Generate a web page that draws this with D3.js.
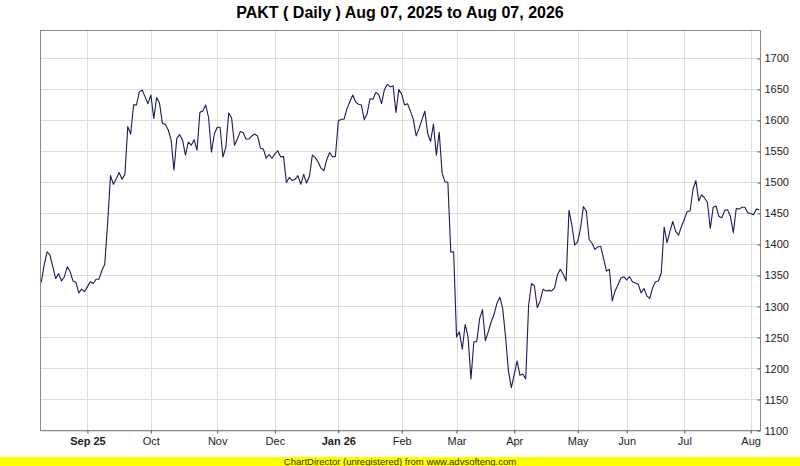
<!DOCTYPE html>
<html>
<head>
<meta charset="utf-8">
<script src="https://cdn.jsdelivr.net/npm/d3@7"></script>
<style>
    body { margin: 0; background: #ffffff; }
    text { font-family: "Liberation Sans", Arial, sans-serif; }
</style>
</head>
<body>
<div id="container"></div>
<script>
// Fechamentos diarios (250 pregoes)
var fechamentos = [
    1339,1367,1388,1383,1364,1345,1353,1341,1348,1364,
    1356,1341,1339,1322,1328,1324,1332,1340,1337,1344,
    1344,1358,1368,1434,1511,1497,1506,1516,1505,1513,
    1590,1578,1625,1625,1646,1649,1638,1627,1641,1603,
    1637,1628,1595,1594,1585,1569,1520,1571,1577,1568,
    1544,1565,
    1560,1569,1552,1613,1615,1625,1605,1549,1578,1589,
    1589,1541,1557,1612,1604,1560,1570,1582,1580,1570,
    1570,1575,1578,1575,1555,1554,1539,1545,1539,1546,
    1551,1541,1542,1500,1508,1503,1505,1511,1497,1513,
    1499,1510,1544,1540,1533,1523,1519,1537,1548,1541,
    1542,1599,1602,1602,1619,1630,1641,1630,1626,1625,
    1601,1611,1635,1634,1645,1642,1627,1650,1658,1654,
    1656,1613,1650,1642,1625,1627,1615,1602,1575,1587,
    1601,1615,1579,1566,1594,1544,1581,1515,1501,1500,
    1388,1388,1251,1259,1231,1271,1251,1183,1243,1243,
    1280,
    1295,1245,1259,1275,1287,1305,1315,1297,1251,1196,
    1169,1190,1212,1189,1191,1183,1302,1337,1333,1298,
    1309,1328,1325,1326,1325,1330,1351,1360,1352,1341,
    1455,1431,1399,1404,1426,1461,1454,1408,1402,1392,
    1396,1397,1377,1357,1360,1309,1325,1335,1346,1348,
    1343,1348,1340,1338,1336,1322,1329,1317,1313,1330,
    1340,1341,1354,1428,1403,1421,1437,1421,1415,1429,
    1441,1453,1454,1489,1503,1470,1480,1475,1468,1426,
    1460,1462,1445,1443,1455,1456,1445,1419,1458,1457,
    1460,1460,1451,1450,1448,1457,1456
];

// Rotulos do eixo x e o pregao onde cada um cai
var rotulosMes = ["Sep 25","Oct","Nov","Dec","Jan 26","Feb","Mar","Apr","May","Jun","Jul","Aug"];
var indiceMes  = [16, 38, 61, 81, 103, 125, 144, 164, 186, 203, 223, 246];
var rotulosAno = ["Sep 25","Jan 26"];

var ticksY = [1100,1150,1200,1250,1300,1350,1400,1450,1500,1550,1600,1650,1700];

var titulo = "PAKT ( Daily ) Aug 07, 2025 to Aug 07, 2026";
var rodape = "ChartDirector (unregistered) from www.advsofteng.com";

desenharGrafico();

function desenharGrafico(){
    var w = 800;
    var h = 466;
    var esq = 40.5, dir = 760.5, topo = 30.5, base = 430.5;

    var svg = d3.select("div#container")
                .append("svg")
                .attr("width", w)
                .attr("height", h)
                .style("display", "block");

    var x = d3.scaleLinear()
              .domain([0, fechamentos.length - 1])
              .range([41.3, 759.3]);
    var y = d3.scaleLinear()
              .domain([1100, 1745])
              .range([base, topo]);

    // Titulo
    svg.append("text")
        .attr("x", 400)
        .attr("y", 18)
        .attr("text-anchor", "middle")
        .style("font-size", "16px")
        .style("font-weight", "bold")
        .attr("fill", "#000")
        .text(titulo);

    // Grade
    svg.append("g")
        .selectAll("line")
        .data(ticksY)
        .enter()
        .append("line")
        .attr("x1", esq).attr("x2", dir)
        .attr("y1", function(d){ return Math.round(y(d)) + 0.5; })
        .attr("y2", function(d){ return Math.round(y(d)) + 0.5; })
        .attr("stroke", "#dddddd");

    svg.append("g")
        .selectAll("line")
        .data(indiceMes)
        .enter()
        .append("line")
        .attr("x1", function(d){ return Math.round(x(d)) + 0.5; })
        .attr("x2", function(d){ return Math.round(x(d)) + 0.5; })
        .attr("y1", topo).attr("y2", base)
        .attr("stroke", "#dddddd");

    // Linha de preco
    var linha = d3.line()
                  .x(function(d, i){ return x(i); })
                  .y(function(d){ return y(d); });

    svg.append("path")
        .datum(fechamentos)
        .attr("d", linha)
        .attr("fill", "none")
        .attr("stroke", "#1a1a5c")
        .attr("stroke-width", 1.1)
        .attr("stroke-linejoin", "round");

    // Moldura
    svg.append("rect")
        .attr("x", esq).attr("y", topo)
        .attr("width", dir - esq).attr("height", base - topo)
        .attr("fill", "none")
        .attr("stroke", "#888888");

    // Eixo y a direita
    var eixoY = d3.axisRight(y)
                  .tickValues(ticksY)
                  .tickSize(-3)
                  .tickPadding(7)
                  .tickFormat(d3.format("d"));

    var gy = svg.append("g")
        .attr("transform", "translate(" + dir + ",0)")
        .call(eixoY);
    gy.select(".domain").remove();
    gy.selectAll(".tick line").attr("stroke", "#555");
    gy.selectAll(".tick text")
        .style("font-size", "11px")
        .attr("fill", "#222")
        .attr("x", 4);

    // Eixo x
    var eixoX = d3.axisBottom(x)
                  .tickValues(indiceMes)
                  .tickSize(3)
                  .tickPadding(4)
                  .tickFormat(function(d, i){ return rotulosMes[i]; });

    var gx = svg.append("g")
        .attr("transform", "translate(0," + base + ")")
        .call(eixoX);
    gx.select(".domain").remove();
    gx.selectAll(".tick line").attr("stroke", "#555");
    gx.selectAll(".tick text")
        .style("font-size", "11px")
        .attr("fill", "#222")
        .style("font-weight", function(d, i){
            return rotulosAno.indexOf(rotulosMes[i]) >= 0 ? "bold" : "normal";
        });

    // Rodape amarelo
    svg.append("rect")
        .attr("x", 0).attr("y", 457)
        .attr("width", w).attr("height", 9)
        .attr("fill", "#ffff00");

    svg.append("text")
        .attr("x", 400)
        .attr("y", 465)
        .attr("text-anchor", "middle")
        .style("font-size", "9.5px")
        .attr("fill", "#333300")
        .text(rodape);
}
</script>
</body>
</html>
